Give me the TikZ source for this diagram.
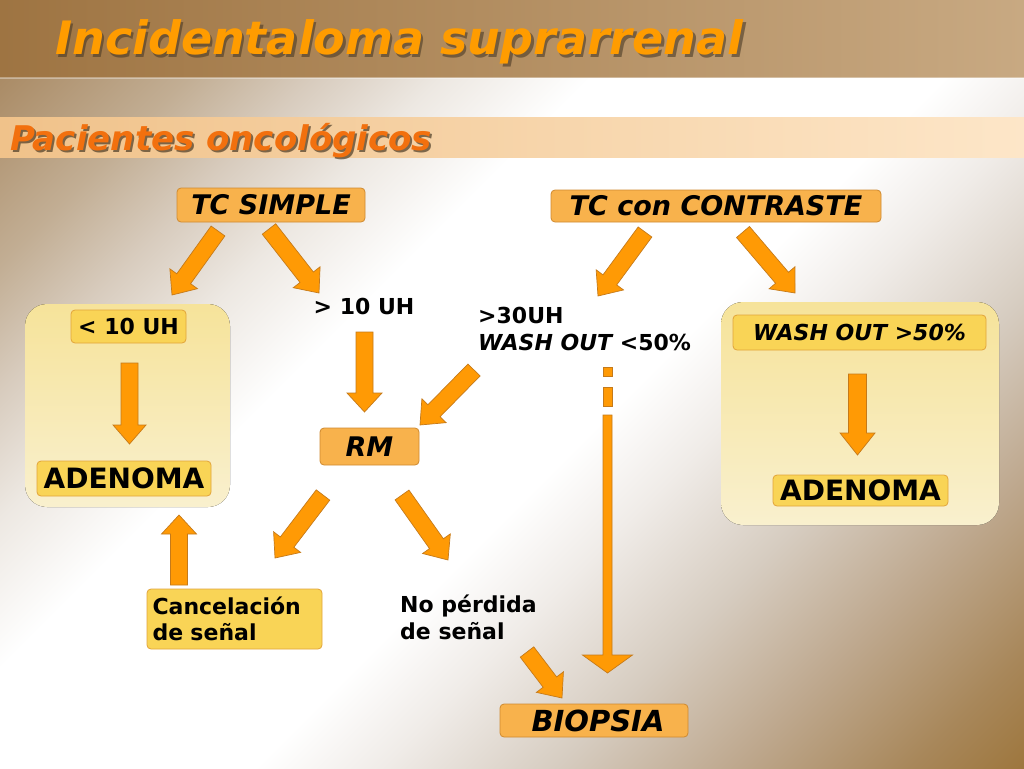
\documentclass[tikz,border=0pt]{standalone}
\usepackage{fontspec}
\setmainfont{DejaVu Sans}
\usetikzlibrary{calc}
\definecolor{arrowor}{HTML}{FF9A05}
\definecolor{arrowedge}{HTML}{C57A1A}
\definecolor{boxor}{HTML}{F8B24C}
\definecolor{boxedge}{HTML}{CF8A30}
\definecolor{boxyel}{HTML}{F9D456}
\definecolor{yeledge}{HTML}{E2A43A}
\definecolor{paneltop}{HTML}{F6E39A}
\definecolor{panelbot}{HTML}{F9F0CE}
\definecolor{titleor}{HTML}{FF9C00}
\definecolor{subor}{HTML}{F2700E}
\definecolor{shadowc}{HTML}{4A3A25}
\definecolor{bandL}{HTML}{9E7442}
\definecolor{bandR}{HTML}{C8A982}
\definecolor{peachL}{HTML}{F0C28A}
\definecolor{peachR}{HTML}{FDE6C8}
\definecolor{bg0}{HTML}{966A28}
\definecolor{bg1}{HTML}{A8875A}
\definecolor{bg2}{HTML}{BEA88E}
\definecolor{bg3}{HTML}{D6CCC0}
\definecolor{bg4}{HTML}{F0ECE8}
\definecolor{bg5}{HTML}{EDE8E2}
\definecolor{bg6}{HTML}{D8CCBE}
\definecolor{bg7}{HTML}{C2AE94}
\definecolor{bg8}{HTML}{A5845C}
\definecolor{bg9}{HTML}{9C7A50}
\pgfdeclareverticalshading{bodyshade}{100bp}{color(0bp)=(bg0); color(11bp)=(bg0); color(19bp)=(bg1); color(26bp)=(bg2); color(33bp)=(bg3); color(40bp)=(bg4); color(45bp)=(white); color(59bp)=(white); color(65bp)=(bg5); color(70bp)=(bg6); color(75bp)=(bg7); color(84bp)=(bg8); color(100bp)=(bg9)}
\newcommand\barrow[5]{%
  \coordinate (bh) at ($(#2)!#5!(#1)$);
  \draw[arrowshape] ($(#1)!#3!90:(#2)$) -- ($(bh)!#3!90:(#2)$) -- ($(bh)!#4!90:(#2)$) -- (#2)
    -- ($(bh)!#4!-90:(#2)$) -- ($(bh)!#3!-90:(#2)$) -- ($(#1)!#3!-90:(#2)$) -- cycle;
}
\tikzset{
  arrowshape/.style={fill=arrowor, draw=arrowedge, line width=0.7pt, line join=miter},
  orbox/.style={draw=boxedge, fill=boxor, line width=0.8pt, rounded corners=4pt, inner sep=0pt, align=center},
  yelbox/.style={draw=yeledge, fill=boxyel, line width=0.8pt, rounded corners=4pt, inner sep=0pt},
  panel/.style={top color=paneltop, bottom color=panelbot, draw=none, rounded corners=22pt},
  big/.style={font=\fontsize{27}{32}\selectfont\bfseries},
  med/.style={font=\fontsize{22}{26.5}\selectfont\bfseries},
  plain/.style={inner sep=0pt, align=left},
}
\begin{document}
\begin{tikzpicture}[x=1pt,y=-1pt]
\useasboundingbox (0,0) rectangle (1024,768);
% background
\fill[shading=bodyshade, shading angle=45] (0,0) rectangle (1024,768);
\fill[left color=bandL, right color=bandR] (0,0) rectangle (1024,77);
\fill[white, opacity=0.35] (0,77) rectangle (1024,79);
\fill[left color=peachL, right color=peachR] (0,117) rectangle (1024,157);
% titles
\node[anchor=base west, inner sep=0pt, text=shadowc, font=\fontsize{46}{50}\selectfont\bfseries\itshape, opacity=0.6] (titleshadow) at (57.5,57.5) {Incidentaloma suprarrenal};
\node[anchor=base west, inner sep=0pt, text=titleor, font=\fontsize{46}{50}\selectfont\bfseries\itshape] (title) at (55,55) {Incidentaloma suprarrenal};
\node[anchor=base west, inner sep=0pt, text=shadowc, font=\fontsize{34}{40}\selectfont\bfseries\itshape, opacity=0.7] (subshadow) at (12,152) {Pacientes oncológicos};
\node[anchor=base west, inner sep=0pt, text=subor, font=\fontsize{34}{40}\selectfont\bfseries\itshape] (sub) at (10,150) {Pacientes oncológicos};
% panels
\fill[panel] (25,304) rectangle (230,507);
\fill[panel] (721,302) rectangle (999,525);
% boxes
\node[orbox, minimum width=188pt, minimum height=34pt, big] (tcs) at (271,205) {\itshape TC SIMPLE};
\node[orbox, minimum width=330pt, minimum height=32pt, big] (tcc) at (716,206) {\itshape TC con CONTRASTE};
\node[yelbox, minimum width=115pt, minimum height=33pt, med] (lt10) at (128.5,326.5) {< 10 UH};
\node[yelbox, minimum width=174pt, minimum height=35pt, font=\fontsize{28}{32}\selectfont\bfseries] (adl) at (124,478.5) {ADENOMA};
\node[yelbox, minimum width=175pt, minimum height=31pt, font=\fontsize{28}{32}\selectfont\bfseries] (adr) at (860.5,490.5) {ADENOMA};
\node[yelbox, minimum width=253pt, minimum height=35pt, med] (wo50) at (859.5,332.5) {\itshape WASH OUT >50\%};
\node[orbox, minimum width=99pt, minimum height=37pt, big] (rm) at (369.5,446.5) {\itshape RM};
\node[yelbox, minimum width=175pt, minimum height=60pt, med, align=left, text width=164pt] (canc) at (234.5,619) {Cancelación\\de señal};
\node[orbox, minimum width=188pt, minimum height=33pt, font=\fontsize{29}{32}\selectfont\bfseries] (bio) at (594,720.5) {\hspace*{8pt}\itshape BIOPSIA};
% plain texts
\node[plain, med] (gt10) at (364,306) {> 10 UH};
\node[plain, med, anchor=north west] (gt30) at (478,307) {>30UH\\{\itshape WASH OUT} <50\%};
\node[plain, med, anchor=north west] (nop) at (400,595) {No pérdida\\de señal};
% arrow end points
\coordinate (a1s) at (218,231); \coordinate (a1e) at (172,295);
\coordinate (a2s) at (269,229); \coordinate (a2e) at (319,293);
\coordinate (a3s) at (364.5,332); \coordinate (a3e) at (364.5,412);
\coordinate (a4s) at (474,370); \coordinate (a4e) at (420,425);
\coordinate (a5s) at (129.5,363); \coordinate (a5e) at (129.5,444);
\coordinate (a6s) at (179,585); \coordinate (a6e) at (179,515);
\coordinate (a7s) at (645,232); \coordinate (a7e) at (598,296);
\coordinate (a8s) at (743,232); \coordinate (a8e) at (795,293);
\coordinate (a9s) at (857.5,374); \coordinate (a9e) at (857.5,455);
\coordinate (a10s) at (323,495); \coordinate (a10e) at (275,558);
\coordinate (a11s) at (402,495); \coordinate (a11e) at (448,560);
\coordinate (a12s) at (527,652); \coordinate (a12e) at (562,698);
\coordinate (a13s) at (607.5,415); \coordinate (a13e) at (607.5,673);
\barrow{a1s}{a1e}{8.5pt}{17pt}{20pt}
\barrow{a2s}{a2e}{8.5pt}{17pt}{20pt}
\barrow{a3s}{a3e}{8.5pt}{17.5pt}{19pt}
\barrow{a4s}{a4e}{8.5pt}{17pt}{20pt}
\barrow{a5s}{a5e}{8.5pt}{16.5pt}{19pt}
\barrow{a6s}{a6e}{8.5pt}{17.5pt}{19pt}
\barrow{a7s}{a7e}{8.5pt}{17pt}{20pt}
\barrow{a8s}{a8e}{8.5pt}{17pt}{20pt}
\barrow{a9s}{a9e}{9pt}{17.5pt}{22pt}
\barrow{a10s}{a10e}{8.5pt}{17pt}{20pt}
\barrow{a11s}{a11e}{8.5pt}{17pt}{20pt}
\barrow{a12s}{a12e}{8.5pt}{17pt}{20pt}
\barrow{a13s}{a13e}{4.5pt}{25pt}{18pt}
\draw[arrowshape] (603,367) rectangle (612,376);
\draw[arrowshape] (603,387) rectangle (612,406);
\end{tikzpicture}
\end{document}
